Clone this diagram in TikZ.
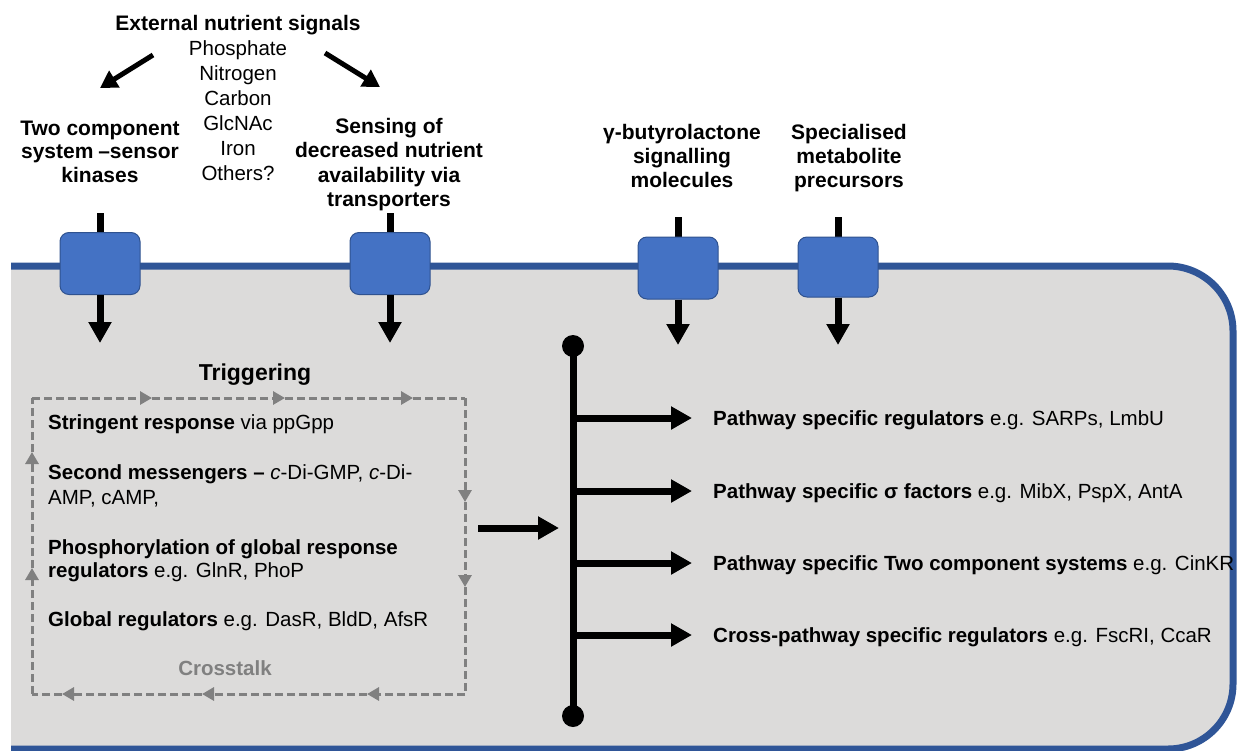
\documentclass[tikz,border=0pt]{standalone}
\usepackage{fontspec}
\setmainfont{Liberation Sans}
\usetikzlibrary{arrows.meta}
\definecolor{cellgray}{RGB}{220,219,218}
\definecolor{membrane}{RGB}{47,85,151}
\definecolor{boxblue}{RGB}{68,114,196}
\definecolor{boxedge}{RGB}{47,82,143}
\definecolor{dashgray}{RGB}{128,128,128}
\begin{document}
\begin{tikzpicture}[x=1pt,y=-1pt,
  txt/.style={inner sep=0pt, font=\fontsize{20.5}{24}\selectfont},
  ctr/.style={txt, align=center, anchor=north},
  bl/.style={font=\bfseries\fontsize{21}{24}\selectfont},
  oneline/.style={txt, anchor=west, text height=14pt, text depth=0pt},
  transporter/.style={draw=boxedge, fill=boxblue, line width=1pt, rounded corners=9pt, minimum width=80pt, minimum height=62pt, inner sep=0pt},
  stub/.style={line width=7pt},
  bigarrow/.style={line width=7pt, -{Triangle[width=22pt,length=21pt]}},
  diagarrow/.style={line width=5pt, -{Triangle[width=19pt,length=17pt]}},
  crossline/.style={dashgray, line width=3pt, dash pattern=on 8pt off 4pt},
  crossarrow/.style={crossline, -{Triangle[width=13pt,length=12pt]}},
]
\useasboundingbox (0,0) rectangle (1237,750);

% cell
\fill[cellgray] (11,266) rectangle (1150,749);
\fill[cellgray, rounded corners=65pt] (1000,266) rectangle (1233,749);
\draw[membrane, line width=7pt, rounded corners=65pt] (11,266) -- (1233,266) -- (1233,749) -- (11,749);

% transporters
\coordinate (s1) at (100,213);
\coordinate (s2) at (390,213);
\coordinate (s3) at (678,217);
\coordinate (s4) at (838,217);
\draw[stub] (s1) -- (100,250);
\draw[stub] (s2) -- (390,250);
\draw[stub] (s3) -- (678,250);
\draw[stub] (s4) -- (838,250);
\node[transporter] (t1) at (100,263.5) {};
\node[transporter] (t2) at (390,263.5) {};
\node[transporter] (t3) at (678,268) {};
\node[transporter, minimum height=60pt] (t4) at (838,267) {};
\coordinate (d1) at (100,343);
\coordinate (d2) at (390,343);
\coordinate (d3) at (678,345);
\coordinate (d4) at (838,345);
\draw[bigarrow] (t1.south) -- (d1);
\draw[bigarrow] (t2.south) -- (d2);
\draw[bigarrow] (t3.south) -- (d3);
\draw[bigarrow] (t4.south) -- (d4);

% top labels
\node[ctr, bl] (ext) at (238,15.5) {External nutrient signals};
\node[ctr, font=\fontsize{20.5}{25}\selectfont] (nut) at (238,40.5) {Phosphate\\Nitrogen\\Carbon\\GlcNAc\\Iron\\Others?};
\node[ctr, font=\bfseries\fontsize{21}{23.5}\selectfont] (tcs) at (100,120.5) {Two component\\system \kern-1pt–sensor\\kinases};
\node[ctr, font=\bfseries\fontsize{21}{24.3}\selectfont] (sens) at (389,118) {Sensing of\\decreased nutrient\\availability via\\transporters};
\node[ctr, bl] (gbl) at (682,124.5) {γ-butyrolactone\\signalling\\molecules};
\node[ctr, bl] (smp) at (849,124.5) {Specialised\\metabolite\\precursors};

\coordinate (la0) at (153,55);
\coordinate (la1) at (100,88);
\coordinate (ra0) at (325,53);
\coordinate (ra1) at (380,87);
\draw[diagarrow] (la0) -- (la1);
\draw[diagarrow] (ra0) -- (ra1);

% triggering
\node[inner sep=0pt, font=\bfseries\fontsize{23}{27}\selectfont, text height=16pt, text depth=0pt] (trig) at (255,372) {Triggering};

% crosstalk frame
\coordinate (c1) at (32,398);
\coordinate (c2) at (465,398);
\coordinate (c3) at (465,694);
\coordinate (c4) at (32,694);
\draw[crossarrow] (c1) -- (152,398);
\draw[crossarrow] (152,398) -- (285,398);
\draw[crossarrow] (285,398) -- (413,398);
\draw[crossline] (413,398) -- (c2);
\draw[crossarrow] (c2) -- (465,502);
\draw[crossarrow] (465,502) -- (465,587);
\draw[crossline] (465,587) -- (c3);
\draw[crossarrow] (c3) -- (367,694);
\draw[crossarrow] (367,694) -- (202,694);
\draw[crossarrow] (202,694) -- (62,694);
\draw[crossline] (62,694) -- (c4);
\draw[crossarrow] (c4) -- (32,568);
\draw[crossarrow] (32,568) -- (32,452);
\draw[crossline] (32,452) -- (c1);

\node[oneline] (sr) at (48,422) {\textbf{Stringent response} via ppGpp};
\node[txt, align=left, anchor=north west, font=\fontsize{20.5}{25}\selectfont] (sm) at (48,464) {\textbf{Second messengers –} \textit{c}-Di-GMP, \textit{c}-Di-\\AMP, cAMP,};
\node[txt, align=left, anchor=north west, font=\fontsize{20.5}{23}\selectfont] (ph) at (48,539) {\textbf{Phosphorylation of global response}\\\textbf{regulators} e.g. GlnR, PhoP};
\node[oneline] (gr) at (48,619) {\textbf{Global regulators} e.g. DasR, BldD, AfsR};
\node[oneline, anchor=center, font=\bfseries\fontsize{20.5}{24}\selectfont, text=dashgray] (ct) at (225,668) {Crosstalk};

% bar
\node[circle, fill=black, minimum size=22pt, inner sep=0pt] (topdot) at (573,346) {};
\node[circle, fill=black, minimum size=22pt, inner sep=0pt] (botdot) at (573,716) {};
\draw[line width=7pt] (topdot.center) -- (botdot.center);

\coordinate (fo) at (478,528);
\coordinate (bi) at (559,528);
\draw[bigarrow] (fo) -- (bi);

\node[oneline] (p1) at (713,418) {\textbf{Pathway specific regulators} e.g. SARPs, LmbU};
\node[oneline] (p2) at (713,491) {\textbf{Pathway specific σ factors} e.g. MibX, PspX, AntA};
\node[oneline] (p3) at (713,563) {\textbf{Pathway specific Two component systems} e.g. CinKR};
\node[oneline] (p4) at (713,635) {\textbf{Cross-pathway specific regulators} e.g. FscRI, CcaR};
\coordinate (b1) at (573,418);
\coordinate (b2) at (573,491);
\coordinate (b3) at (573,563);
\coordinate (b4) at (573,635);
\draw[bigarrow] (b1) -- ([xshift=-21pt]p1.west);
\draw[bigarrow] (b2) -- ([xshift=-21pt]p2.west);
\draw[bigarrow] (b3) -- ([xshift=-21pt]p3.west);
\draw[bigarrow] (b4) -- ([xshift=-21pt]p4.west);
\end{tikzpicture}
\end{document}
